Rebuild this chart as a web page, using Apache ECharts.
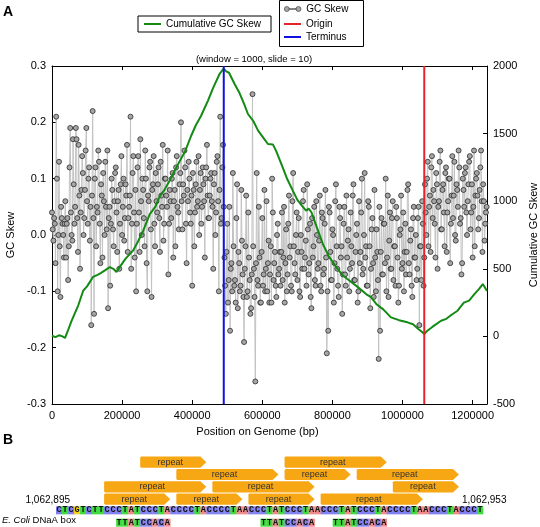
<!DOCTYPE html>
<html><head><meta charset="utf-8">
<script src="https://cdn.jsdelivr.net/npm/echarts@6/dist/echarts.min.js"></script>
<style>html,body{margin:0;padding:0;background:#fff}#c{width:540px;height:527px}</style>
</head><body><div id="c"></div>
<script>
// ---------- Panel A data ----------
const skewStep = 4000;          // spacing of samples in gcSkew (bp), starting at 0
const skewMidOffset = 2000;     // gcSkewMid samples sit half-way between gcSkew samples
const gcSkew = [
 0.04,-0.01,0.02,0.21,-0.1,0.13,-0.11,0.03,0.0,0.02,
 -0.04,0.03,-0.02,0.19,0.0,0.17,0.02,0.19,0.03,0.16,
 -0.06,0.08,0.11,0.03,0.15,0.06,0.1,-0.01,-0.16,0.22,
 -0.14,0.12,0.05,0.15,0.02,0.09,-0.04,0.06,0.13,0.01,
 -0.13,0.05,0.02,0.08,-0.02,0.11,0.04,0.06,-0.06,0.09,
 0.0,0.1,0.03,0.07,-0.03,0.05,0.21,0.02,0.14,-0.04,
 -0.1,0.12,0.04,0.17,0.0,0.08,-0.02,0.1,-0.1,0.06,
 0.13,-0.11,0.09,0.02,0.11,
 0.04,0.12,-0.03,0.07,0.16,0.02,0.1,0.05,-0.07,0.08,
 0.03,0.11,0.06,-0.02,0.14,0.04,0.09,0.2,0.01,0.07,
 0.12,-0.05,0.06,0.1,0.02,-0.09,0.08,0.04,0.13,0.06,
 0.0,0.11,0.05,0.09,-0.04,0.12,0.07,0.03,0.1,0.06,
 -0.06,0.11,0.04,0.14,-0.1,0.21,0.03,0.16,
 -0.04,-0.14,0.02,-0.08,-0.17,-0.05,0.11,-0.09,-0.12,0.09,
 -0.03,-0.1,0.08,-0.07,-0.19,-0.02,-0.11,0.04,-0.08,-0.13,
 0.25,-0.06,-0.26,0.11,-0.09,-0.04,-0.12,0.03,-0.07,-0.1,
 0.06,-0.05,-0.12,-0.02,0.1,-0.08,-0.03,-0.11,0.02,-0.06,
 -0.09,0.04,-0.04,-0.12,0.01,-0.07,0.07,-0.02,-0.1,0.11,
 -0.05,0.0,-0.08,0.03,-0.11,-0.03,0.06,-0.06,-0.01,0.09,
 -0.07,0.02,-0.13,-0.04,0.05,-0.09,0.0,-0.05,0.07,-0.1,
 0.03,-0.06,0.08,-0.21,-0.17,0.04,-0.08,0.01,-0.12,0.06,
 -0.02,-0.09,0.05,-0.04,-0.14,0.02,-0.07,0.07,-0.01,-0.1,
 0.04,-0.05,0.09,-0.08,0.0,-0.12,0.06,-0.03,0.1,-0.06,
 0.11,-0.02,-0.09,0.05,-0.13,0.01,-0.05,0.08,-0.1,-0.03,
 -0.22,-0.17,0.03,-0.07,0.02,0.1,-0.04,-0.11,0.04,-0.06,
 0.06,-0.02,-0.09,0.03,-0.12,0.0,0.07,-0.05,-0.1,0.02,
 -0.03,0.09,-0.07,0.01,-0.11,0.05,-0.04,-0.08,0.03,-0.16,-0.02,0.06,-0.09,
 0.09,0.0,0.13,0.05,-0.03,0.14,0.08,0.02,0.11,-0.06,
 0.06,0.15,0.01,0.09,-0.02,0.12,0.04,0.1,-0.05,0.07,
 0.03,0.13,-0.01,0.08,0.15,0.02,-0.07,0.1,0.05,0.12,
 0.0,0.09,0.14,0.04,-0.04,0.15,0.07,0.11,0.01,0.08,
 0.15,-0.03,0.06,0.02,0.05
];
const gcSkewMid = [
 0.01,0.03,-0.05,0.1,0.0,-0.02,0.05,0.02,-0.04,0.06,
 0.02,-0.08,0.12,0.04,-0.01,0.09,0.05,0.17,-0.03,0.07,
 0.04,0.14,0.0,0.08,0.19,0.02,0.12,0.05,0.07,0.03,
 0.1,-0.02,0.04,0.13,-0.05,0.07,0.11,0.0,0.05,0.15,
 0.03,-0.09,0.1,0.01,0.06,0.12,-0.03,0.08,0.02,0.14,
 0.05,-0.01,0.09,0.16,0.03,0.07,-0.06,0.11,0.04,0.08,
 0.02,0.14,-0.03,0.06,0.1,0.03,0.15,-0.05,0.07,0.12,
 0.01,0.08,0.14,-0.02,0.06,
 0.09,0.03,0.13,0.05,-0.01,0.1,0.07,0.15,0.02,0.06,
 0.1,-0.04,0.08,0.12,0.05,0.01,0.11,0.06,0.09,0.15,
 0.02,0.08,0.13,0.04,0.07,0.11,-0.02,0.09,0.05,0.14,
 0.08,0.02,0.12,0.06,0.1,0.16,0.03,0.07,0.11,0.05,
 0.09,0.0,0.13,0.06,0.08,0.02,0.12,0.05,
 -0.09,-0.03,-0.12,0.05,-0.06,-0.1,-0.02,-0.08,0.03,-0.13,
 -0.05,-0.09,-0.01,-0.11,-0.06,0.07,-0.1,-0.04,-0.14,-0.07,
 -0.02,-0.11,-0.05,-0.08,0.05,-0.12,-0.03,-0.09,0.08,-0.06,
 -0.1,-0.01,-0.07,-0.12,0.04,-0.05,-0.09,0.0,-0.07,-0.03,
 -0.03,-0.08,0.05,-0.05,-0.1,0.02,-0.04,-0.09,0.06,-0.02,
 -0.07,0.04,-0.03,-0.1,0.0,-0.06,0.08,-0.04,-0.09,0.01,
 -0.05,-0.11,0.03,-0.02,-0.08,0.06,-0.06,-0.01,-0.09,0.04,
 -0.07,0.02,-0.04,-0.1,0.05,-0.03,-0.08,0.0,-0.05,0.09,
 -0.06,-0.11,0.03,-0.02,-0.07,0.05,-0.09,-0.04,0.01,-0.06,
 -0.02,0.07,-0.08,-0.03,0.02,-0.1,-0.05,0.04,-0.07,0.0,
 -0.04,-0.09,0.06,-0.02,-0.06,0.03,-0.11,-0.04,0.01,-0.08,
 0.05,-0.03,-0.07,0.02,-0.05,-0.1,0.07,-0.01,-0.06,0.03,
 -0.08,-0.02,0.05,-0.04,-0.09,0.01,-0.06,0.04,-0.03,-0.07,
 0.08,-0.05,-0.01,-0.09,0.03,-0.04,0.0,-0.06,0.05,-0.02,
 -0.08,0.02,-0.04,
 0.04,0.1,-0.02,0.07,0.12,0.03,0.06,-0.04,0.09,0.05,
 0.13,0.01,0.08,0.04,0.11,-0.03,0.06,0.1,0.02,0.14,
 0.07,0.0,0.09,0.05,0.12,0.03,-0.05,0.08,0.11,0.04,
 0.06,0.13,0.01,0.09,0.05,-0.02,0.1,0.07,0.03,0.12,
 0.06,0.09,-0.01,0.04
];
const cumPos = [0,10000,20000,30000,37000,45000,55000,65000,75000,89000,100000,117000,130000,140000,152000,165000,175000,184000,195000,210000,231000,245000,260000,279000,295000,308000,320000,335000,350000,365000,380000,397000,410000,425000,445000,460000,478000,485000,490000,497000,505000,521000,535000,548000,559000,575000,588000,600000,616000,630000,639000,655000,670000,687000,700000,715000,725000,732000,740000,755000,773000,790000,811000,830000,849000,870000,896000,910000,925000,945000,967000,990000,1014000,1030000,1045000,1055000,1062000,1070000,1085000,1110000,1125000,1140000,1157000,1175000,1190000,1205000,1218000,1229000,1241000];
const cumSkew = [5,-5,8,0,-12,40,110,170,230,338,370,440,455,470,490,513,500,476,520,575,634,700,780,905,960,1040,1080,1150,1225,1300,1370,1484,1560,1630,1744,1840,1941,1965,1980,1960,1950,1867,1800,1720,1645,1590,1522,1480,1423,1420,1374,1270,1170,1078,1010,960,930,945,920,810,682,590,513,450,412,370,313,290,240,200,141,120,104,90,55,35,18,40,70,116,130,160,190,250,265,313,350,387,335];
const originPos = 1062000;
const terminusPos = 490000;
const genomeLength = 1241000;
const xTickStep = 200000;
const leftTicks = [-0.3, 0.3, 0.1];     // min, max, step
const rightTicks = [-500, 2000, 500];   // min, max, step

// ---------- Panel B data ----------
const sequence = "CTCGTCTTCCCTATCCCTACCCCTACCCCTAACCCTATCCCTAACCCTATCCCTACCCCTAACCCTACCCT";
const seqStartLabel = "1,062,895";
const seqEndLabel = "1,062,953";
const repeatRows = ['r1','r2','r3','r4','seq','box'];
const repeats = [
  [14,25,'r1'],[38,55,'r1'],
  [20,37,'r2'],[38,49,'r2'],[50,67,'r2'],
  [8,25,'r3'],[26,43,'r3'],[56,67,'r3'],
  [8,19,'r4'],[20,31,'r4'],[32,43,'r4'],[44,61,'r4']
];
const dnaaBoxSeq = "TTATCCACA";
const dnaaBoxStarts = [10,34,46];

const baseColors = {C:'#8080f0', T:'#3ddc3d', A:'#f08a8a', G:'#f5d020'};
const FONT = 'Liberation Sans, Arial, sans-serif';

// combine the two interleaved sample sets in position order
const skewPoints = [];
gcSkew.forEach((v,i)=>{
  skewPoints.push([i*skewStep, v]);
  if (i < gcSkewMid.length) skewPoints.push([i*skewStep + skewMidOffset, gcSkewMid[i]]);
});

const chart = echarts.init(document.getElementById('c'), null, {renderer:'canvas'});

function renderRepeat(params, api){
  const s = api.value(0), e = api.value(1), r = api.value(2);
  const p0 = api.coord([s, r]); const p1 = api.coord([e, r]);
  const bh = api.size([0,1])[1]; const h = bh*0.9;
  const y0 = p0[1]-h/2, y1 = p0[1]+h/2; const tip = 6;
  return {type:'group', children:[
    {type:'polygon', shape:{points:[[p0[0]+1,y0],[p1[0]-tip,y0],[p1[0],p0[1]],[p1[0]-tip,y1],[p0[0]+1,y1],[p0[0],y1-1],[p0[0],y0+1]]}, style:{fill:'#f6a713'}},
    {type:'text', style:{text:'repeat', x:(p0[0]+p1[0]-tip)/2, y:p0[1], align:'center', verticalAlign:'middle', fontSize:9, fill:'#333', fontFamily:FONT}}
  ]};
}
function baseCell(api, i, row, letter){
  const a = api.coord([i, row]); const b = api.coord([i+1, row]);
  const bh = api.size([0,1])[1];
  const top = a[1]-bh/2;
  return [
    {type:'rect', shape:{x:a[0], y:top+1, width:b[0]-a[0]+0.3, height:8}, style:{fill:baseColors[letter]}},
    {type:'text', style:{text:letter, x:(a[0]+b[0])/2, y:top+5, align:'center', verticalAlign:'middle', fontSize:8.5, fontWeight:'bold', fill:'#111', fontFamily:'Liberation Mono, Courier New, monospace'}}
  ];
}
function renderSeq(params, api){
  const i = api.value(0);
  return {type:'group', children: baseCell(api, i, 'seq', sequence[params.dataIndex])};
}
function renderBox(params, api){
  const s = api.value(0); let ch = [];
  for (let k=0;k<dnaaBoxSeq.length;k++) ch = ch.concat(baseCell(api, s+k, 'box', dnaaBoxSeq[k]));
  return {type:'group', children: ch};
}

const tickStyle = {show:true, inside:true, length:4, lineStyle:{color:'#000'}};
const lineOnly = 'rect';
const legendText = {fontSize:10, color:'#000', fontFamily:FONT};
const option = {
  animation:false,
  textStyle:{fontFamily:FONT},
  grid:[
    {left:52, top:66, width:435, height:338, show:false, containLabel:false, outerBoundsMode:'none'},
    {left:56, top:456, width:427, height:74, show:false, containLabel:false, outerBoundsMode:'none'}
  ],
  legend:[
    {data:[{name:'Cumulative GC Skew', icon:lineOnly}], left:138, top:16, orient:'horizontal', borderColor:'#000', borderWidth:1,
     padding:[3,10,3,6], itemWidth:17, itemHeight:2, textStyle:legendText, backgroundColor:'#fff', selectedMode:false},
    {data:[{name:'GC Skew', icon:'path://M3,0A3,3 0 1 1 3,6A3,3 0 1 1 3,0ZM6,2.6L14,2.6L14,3.4L6,3.4ZM17,0A3,3 0 1 1 17,6A3,3 0 1 1 17,0Z',
            itemStyle:{color:'#a6a6a6', borderColor:'#333', borderWidth:0.6}}],
     left:284, top:4, orient:'vertical', itemWidth:17, itemHeight:5, textStyle:legendText, padding:0, selectedMode:false},
    {data:[{name:'Origin', icon:lineOnly},{name:'Terminus', icon:lineOnly}], left:284, top:19, orient:'vertical',
     padding:0, itemGap:3, itemWidth:17, itemHeight:2, textStyle:legendText, selectedMode:false}
  ],
  xAxis:[
    {gridIndex:0, type:'value', min:0, max:genomeLength, interval:xTickStep, position:'bottom',
     axisLine:{onZero:false, lineStyle:{color:'#000', width:1}}, axisTick:tickStyle, splitLine:{show:false},
     axisLabel:{color:'#000', fontSize:11, margin:6, formatter:v=> (v%xTickStep===0? String(v):'')},
     name:'Position on Genome (bp)', nameLocation:'middle', nameGap:22, nameTextStyle:{fontSize:11, color:'#000', padding:[0,24,0,0]}},
    {gridIndex:0, type:'value', min:0, max:genomeLength, interval:xTickStep, position:'top',
     axisLine:{onZero:false, lineStyle:{color:'#000'}}, axisTick:tickStyle, axisLabel:{show:false}, splitLine:{show:false}},
    {gridIndex:1, type:'value', min:0, max:sequence.length, show:false}
  ],
  yAxis:[
    {gridIndex:0, type:'value', min:leftTicks[0], max:leftTicks[1], interval:leftTicks[2], position:'left',
     axisLine:{show:true, onZero:false, lineStyle:{color:'#000'}}, axisTick:tickStyle, splitLine:{show:false},
     axisLabel:{color:'#000', fontSize:11, margin:6, formatter:v=> (Math.abs(v)<1e-9?0:v).toFixed(1)},
     name:'GC Skew', nameLocation:'middle', nameGap:35, nameTextStyle:{fontSize:11, color:'#000'}},
    {gridIndex:0, type:'value', min:rightTicks[0], max:rightTicks[1], interval:rightTicks[2], position:'right',
     axisLine:{show:true, onZero:false, lineStyle:{color:'#000'}}, axisTick:tickStyle, splitLine:{show:false},
     axisLabel:{color:'#000', fontSize:11, margin:6, formatter:v=>String(v)},
     name:'Cumulative GC Skew', nameLocation:'middle', nameGap:32, nameRotate:90, nameTextStyle:{fontSize:11, color:'#000'}},
    {gridIndex:1, type:'category', data:repeatRows, inverse:true, show:false}
  ],
  graphic:[
    {type:'rect', shape:{x:279.5, y:0.5, width:84, height:46}, style:{fill:'#fff', stroke:'#000', lineWidth:1}, z:-1},
    {type:'text', left:3, top:5, style:{text:'A', fontSize:14, fontWeight:'bold', fill:'#000', fontFamily:FONT}},
    {type:'text', left:3, top:433, style:{text:'B', fontSize:14, fontWeight:'bold', fill:'#000', fontFamily:FONT}},
    {type:'text', x:254, y:59, style:{text:'(window = 1000, slide = 10)', align:'center', verticalAlign:'middle', fontSize:9.5, fill:'#000', fontFamily:FONT}},
    {type:'text', x:70, y:500, style:{text:seqStartLabel, align:'right', verticalAlign:'middle', fontSize:10, fill:'#000', fontFamily:FONT}},
    {type:'text', x:462, y:500, style:{text:seqEndLabel, align:'left', verticalAlign:'middle', fontSize:10, fill:'#000', fontFamily:FONT}},
    {type:'text', x:2, y:520, style:{text:'{i|E. Coli} DNaA box', verticalAlign:'middle', fontSize:9.5, fill:'#000', fontFamily:FONT, rich:{i:{fontStyle:'italic', fontSize:9.5, fontFamily:FONT}}}}
  ],
  series:[
    {name:'GC Skew', type:'line', xAxisIndex:0, yAxisIndex:0, data:skewPoints,
     symbol:'circle', symbolSize:5, showAllSymbol:true, lineStyle:{color:'#c2c2c2', width:1},
     itemStyle:{color:'#a6a6a6', borderColor:'#2a2a2a', borderWidth:0.8}, z:2},
    {name:'Cumulative GC Skew', type:'line', xAxisIndex:0, yAxisIndex:1, data:cumPos.map((p,i)=>[p, cumSkew[i]]),
     symbol:'none', lineStyle:{color:'#138a13', width:2}, itemStyle:{color:'#138a13'}, z:3},
    {name:'Origin', type:'line', xAxisIndex:0, yAxisIndex:0, data:[[originPos,leftTicks[0]],[originPos,leftTicks[1]]],
     symbol:'none', lineStyle:{color:'#e8242a', width:2}, itemStyle:{color:'#e8242a'}, z:4},
    {name:'Terminus', type:'line', xAxisIndex:0, yAxisIndex:0, data:[[terminusPos,leftTicks[0]],[terminusPos,leftTicks[1]]],
     symbol:'none', lineStyle:{color:'#1010e0', width:2}, itemStyle:{color:'#1010e0'}, z:4},
    {type:'custom', xAxisIndex:2, yAxisIndex:2, data:repeats, renderItem:renderRepeat, encode:{x:[0,1], y:2}},
    {type:'custom', xAxisIndex:2, yAxisIndex:2, data:sequence.split('').map((b,i)=>[i,'seq']), renderItem:renderSeq, encode:{x:0, y:1}},
    {type:'custom', xAxisIndex:2, yAxisIndex:2, data:dnaaBoxStarts.map(s=>[s,'box']), renderItem:renderBox, encode:{x:0, y:1}}
  ]
};
chart.setOption(option);
</script></body></html>
